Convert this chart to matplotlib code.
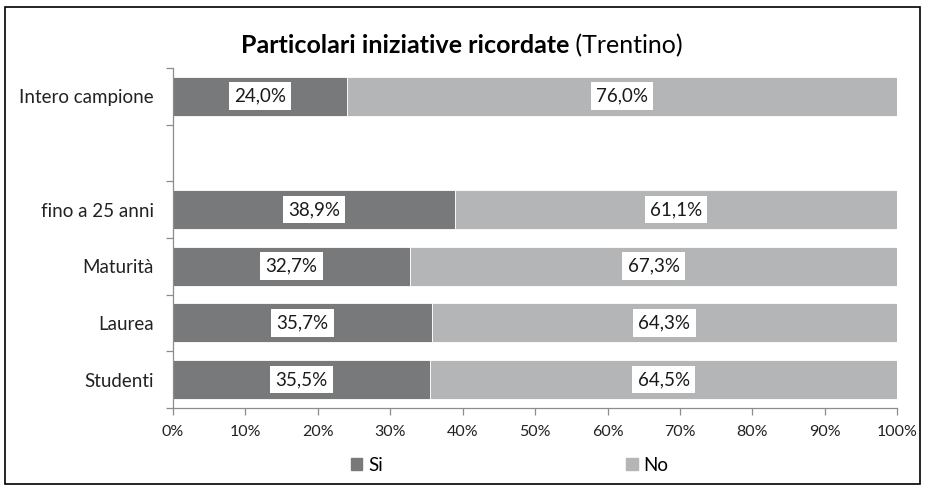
import matplotlib
matplotlib.use("Agg")
import matplotlib.pyplot as plt
from matplotlib.patches import Rectangle
import numpy as np

plt.rcParams['font.family'] = ['Lato', 'DejaVu Sans']

# Data (top to bottom in the chart; '' is an empty spacer row)
categories = ['Intero campione', '', 'fino a 25 anni', 'Maturità', 'Laurea', 'Studenti']
si_values = [24.0, None, 38.9, 32.7, 35.7, 35.5]
no_values = [76.0, None, 61.1, 67.3, 64.3, 64.5]
x_ticks = [0, 10, 20, 30, 40, 50, 60, 70, 80, 90, 100]
x_tick_labels = [f"{t}%" for t in x_ticks]
series_names = ['Si', 'No']
title_bold = 'Particolari iniziative ricordate'
title_normal = ' (Trentino)'

c_si = '#77797B'
c_no = '#B3B5B6'
axis_col = '#8C8C8C'

fig = plt.figure(figsize=(9.25, 4.88), dpi=100)
ax = fig.add_axes([0.187, 0.164, 0.783, 0.697])

n = len(categories)
ypos = np.arange(n)[::-1]  # top row highest

for y, s, nv in zip(ypos, si_values, no_values):
    if s is None:
        continue
    ax.barh(y, s, height=0.69, color=c_si, edgecolor='white', linewidth=0.6)
    ax.barh(y, nv, left=s, height=0.69, color=c_no, edgecolor='white', linewidth=0.6)
    for xc, v in ((s / 2, s), (s + nv / 2, nv)):
        ax.text(xc, y, f"{v:.1f}%".replace('.', ','), ha='center', va='center',
                fontsize=13.5, color='#1a1a1a',
                bbox=dict(boxstyle='square,pad=0.28', fc='white', ec='none'))

ax.set_xlim(0, 100)
ax.set_ylim(-0.5, n - 0.5)
ax.set_xticks(x_ticks)
ax.set_xticklabels(x_tick_labels, fontsize=11.5, color='#222222')
ax.set_yticks(ypos)
ax.set_yticklabels(categories, fontsize=13.5, color='#222222')
ax.tick_params(axis='y', which='major', length=0, pad=14)
ax.set_yticks(np.arange(-0.5, n, 1.0), minor=True)
ax.tick_params(axis='y', which='minor', length=5, color=axis_col, width=0.9)
ax.tick_params(axis='x', which='major', length=5, color=axis_col, width=0.9, pad=7)

for sp in ['top', 'right']:
    ax.spines[sp].set_visible(False)
for sp in ['left', 'bottom']:
    ax.spines[sp].set_color(axis_col)
    ax.spines[sp].set_linewidth(0.9)

# Legend
handles = [Rectangle((0, 0), 1, 1, color=c_si), Rectangle((0, 0), 1, 1, color=c_no)]
fig.legend(handles, series_names, loc='center', bbox_to_anchor=(0.551, 0.047), ncol=2,
           frameon=False, fontsize=13.5, handlelength=0.6, handleheight=0.6,
           handletextpad=0.3, columnspacing=13)

# Title: bold + normal, centered together
fig.canvas.draw()
r = fig.canvas.get_renderer()
t1 = fig.text(0, 0.906, title_bold, fontsize=18, fontweight='bold', va='center', ha='left')
t2 = fig.text(0, 0.906, title_normal, fontsize=18, va='center', ha='left')
w1 = t1.get_window_extent(r).width / fig.bbox.width
w2 = t2.get_window_extent(r).width / fig.bbox.width
x0 = 0.499 - (w1 + w2) / 2
t1.set_x(x0)
t2.set_x(x0 + w1)

# Figure border
fig.patches.append(Rectangle((0.005, 0.008), 0.99, 0.978, transform=fig.transFigure,
                             fill=False, ec='black', lw=1.2))

fig.savefig('out.png', dpi=100)
